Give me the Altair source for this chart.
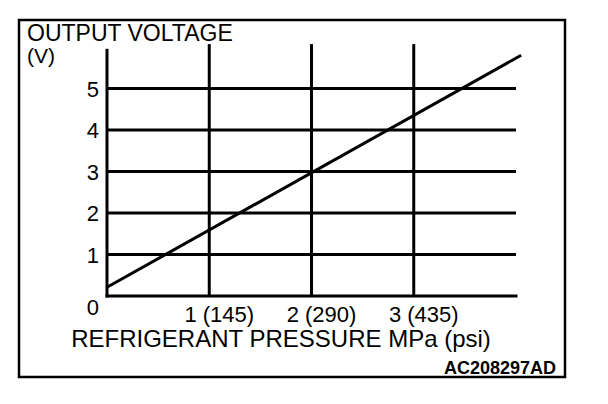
import altair as alt
import pandas as pd

# ---- data ----
pressure_mpa = [0.0, 4.05]          # line end points (MPa)
output_v = [0.21, 5.80]             # output voltage (V)
volt_ticks = [1, 2, 3, 4, 5]
press_ticks = [1, 2, 3]
press_labels = ["1 (145)", "2 (290)", "3 (435)"]
origin_label = ["0"]
x_max = 4
y_grid_top = 6.07
y_axis_top = 5.92
y_title = "OUTPUT VOLTAGE"
y_unit = "(V)"
x_title = "REFRIGERANT PRESSURE MPa (psi)"
code_label = "AC208297AD"

FONT = "Liberation Sans"
xs = alt.Scale(domain=[0, 4], nice=False, zero=False)
ys = alt.Scale(domain=[0, 6], nice=False, zero=False)

one = alt.Data(values=[{}])

border = alt.Chart(one).mark_rect(
    fill="white", fillOpacity=0, stroke="black", strokeWidth=2.5
).encode(x=alt.value(-88), x2=alt.value(458), y=alt.value(-27), y2=alt.value(330))

hgrid = alt.Chart(pd.DataFrame({"v": volt_ticks})).mark_rule(
    color="black", strokeWidth=3
).encode(
    y=alt.Y("v:Q", scale=ys, axis=None),
    x=alt.XDatum(0, scale=xs, axis=None),
    x2=alt.X2Datum(x_max),
)

vgrid = alt.Chart(pd.DataFrame({"p": press_ticks})).mark_rule(
    color="black", strokeWidth=3
).encode(
    x=alt.X("p:Q", scale=xs, axis=None),
    y=alt.YDatum(0, scale=ys, axis=None),
    y2=alt.Y2Datum(y_grid_top),
)

left_axis = alt.Chart(one).mark_rule(color="black", strokeWidth=3, strokeCap="square").encode(
    x=alt.XDatum(0, scale=xs, axis=None),
    y=alt.YDatum(0, scale=ys, axis=None),
    y2=alt.Y2Datum(y_axis_top),
)
bottom_axis = alt.Chart(one).mark_rule(color="black", strokeWidth=3, strokeCap="square").encode(
    y=alt.YDatum(0, scale=ys, axis=None),
    x=alt.XDatum(0, scale=xs, axis=None),
    x2=alt.X2Datum(x_max),
)

line = alt.Chart(pd.DataFrame({"p": pressure_mpa, "v": output_v})).mark_line(
    color="black", strokeWidth=3, clip=False
).encode(
    x=alt.X("p:Q", scale=xs, axis=None),
    y=alt.Y("v:Q", scale=ys, axis=None),
)

ylabels = alt.Chart(pd.DataFrame({"v": volt_ticks})).mark_text(
    font=FONT, fontSize=22, align="right", baseline="middle", dx=-8, dy=1, color="black"
).encode(
    y=alt.Y("v:Q", scale=ys, axis=None),
    x=alt.XDatum(0, scale=xs, axis=None),
    text=alt.Text("v:Q"),
)

y0label = alt.Chart(pd.DataFrame({"t": origin_label})).mark_text(
    font=FONT, fontSize=22, align="right", baseline="middle", dx=-8, dy=12, color="black"
).encode(
    y=alt.YDatum(0, scale=ys, axis=None),
    x=alt.XDatum(0, scale=xs, axis=None),
    text="t:N",
)

xlabels = alt.Chart(pd.DataFrame({"p": press_ticks, "t": press_labels})).mark_text(
    font=FONT, fontSize=22, align="center", baseline="alphabetic", dx=10, dy=26, color="black"
).encode(
    x=alt.X("p:Q", scale=xs, axis=None),
    y=alt.YDatum(0, scale=ys, axis=None),
    text="t:N",
)

ytitle = alt.Chart(one).mark_text(
    text=y_title, font=FONT, fontSize=23, align="left", baseline="alphabetic", color="black"
).encode(x=alt.value(-80), y=alt.value(-6))

yunit = alt.Chart(one).mark_text(
    text=y_unit, font=FONT, fontSize=21, align="left", baseline="alphabetic", color="black"
).encode(x=alt.value(-80), y=alt.value(16))

xtitle = alt.Chart(one).mark_text(
    text=x_title, font=FONT, fontSize=24, align="center", baseline="alphabetic", color="black"
).encode(x=alt.value(174), y=alt.value(300))

code = alt.Chart(one).mark_text(
    text=code_label, font=FONT, fontSize=18, fontWeight="bold", align="right",
    baseline="alphabetic", color="black"
).encode(x=alt.value(449), y=alt.value(327))

chart = alt.layer(
    border, hgrid, vgrid, left_axis, bottom_axis, line,
    ylabels, y0label, xlabels, ytitle, yunit, xtitle, code
).properties(
    width=409, height=249,
    padding={"left": 99, "top": 39, "right": 84, "bottom": 100},
    autosize=alt.AutoSizeParams(type="none"),
    background="white",
).configure_view(stroke=None)

chart.save("out.html", embed_options={"renderer": "svg", "actions": False})
